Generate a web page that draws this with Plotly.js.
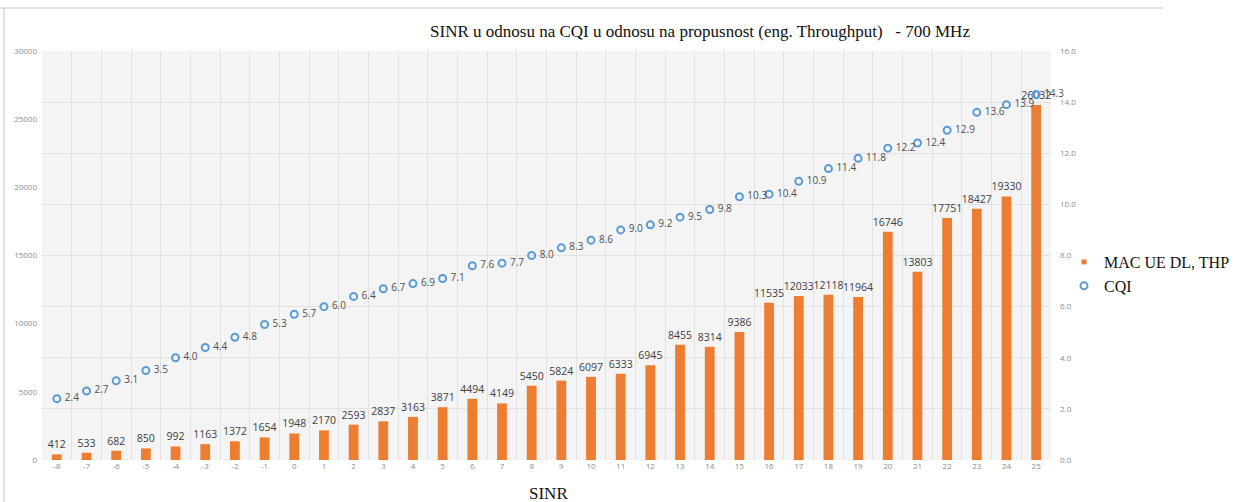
<!DOCTYPE html>
<html>
<head>
<meta charset="utf-8">
<script src="https://cdn.plot.ly/plotly-3.0.1.min.js"></script>
<style>html,body{margin:0;padding:0;background:#fff;}#chart{width:1236px;height:502px;}</style>
</head>
<body>
<div id="chart"></div>
<script>
const sinr = ["-8","-7","-6","-5","-4","-3","-2","-1","0","1","2","3","4","5","6","7","8","9","10","11","12","13","14","15","16","17","18","19","20","21","22","23","24","25"];
const throughput = [412,533,682,850,992,1163,1372,1654,1948,2170,2593,2837,3163,3871,4494,4149,5450,5824,6097,6333,6945,8455,8314,9386,11535,12033,12118,11964,16746,13803,17751,18427,19330,26032];
const cqi = [2.4,2.7,3.1,3.5,4.0,4.4,4.8,5.3,5.7,6.0,6.4,6.7,6.9,7.1,7.6,7.7,8.0,8.3,8.6,9.0,9.2,9.5,9.8,10.3,10.4,10.9,11.4,11.8,12.2,12.4,12.9,13.6,13.9,14.3];
const titleText = "SINR u odnosu na CQI u odnosu na propusnost (eng. Throughput)\u00a0\u00a0\u00a0- 700 MHz";

const pl = 42, pr = 1051, pt = 51, pb = 460;
const px = v => (v - pl) / (pr - pl);
const py = v => (pb - v) / (pb - pt);

const traces = [
  {
    type: 'bar', x: sinr, y: throughput, name: 'MAC UE DL, THP', showlegend: false,
    marker: {color: '#ED7D31'}, width: 0.33,
    text: throughput.map(String), textposition: 'outside', cliponaxis: false, constraintext: 'none',
    textfont: {family: 'Open Sans, sans-serif', size: 10.5, color: '#404040'},
    hoverinfo: 'x+y'
  },
  {
    type: 'scatter', mode: 'markers', x: [sinr[0]], y: [null], name: 'MAC UE DL, THP',
    marker: {symbol: 'square', size: 5, color: '#ED7D31'}, showlegend: true, yaxis: 'y'
  },
  {
    type: 'scatter', mode: 'markers+text', x: sinr, y: cqi, name: 'CQI', yaxis: 'y2',
    marker: {symbol: 'circle-open', size: 7, color: '#5B9BD5', line: {width: 2, color: '#5B9BD5'}},
    text: cqi.map(v => '\u00a0' + v.toFixed(1)), textposition: 'middle right', cliponaxis: false,
    textfont: {family: 'Open Sans, sans-serif', size: 10, color: '#505050'}
  }
];

const layout = {
  width: 1236, height: 502,
  margin: {l: pl, r: 1236 - pr, t: pt, b: 502 - pb, pad: 0, autoexpand: false},
  paper_bgcolor: '#ffffff', plot_bgcolor: '#f4f4f4',
  showlegend: true,
  title: {text: titleText, font: {family: 'Liberation Serif, serif', size: 17, color: '#111'},
          xref: 'container', x: 700/1236, xanchor: 'center', yref: 'container', y: 1 - 31/502, yanchor: 'middle'},
  xaxis: {type: 'category', categoryorder: 'array', categoryarray: sinr, range: [-0.5, sinr.length - 0.5],
          tickson: 'boundaries', ticks: '', showgrid: true, gridcolor: '#e2e2e2', gridwidth: 1,
          tickfont: {family: 'Open Sans, sans-serif', size: 8, color: '#8c8c8c'},
          showline: false, zeroline: false, fixedrange: true, automargin: false},
  yaxis: {range: [0, 30000], dtick: 5000, tickformat: 'd', showgrid: false, zeroline: false, showline: false, automargin: false,
          tickfont: {family: 'Open Sans, sans-serif', size: 8, color: '#8c8c8c'}, ticks: '', ticklabelstandoff: 4},
  yaxis2: {range: [0, 16], dtick: 2, tickformat: '.1f', overlaying: 'y', side: 'right', automargin: false,
           showgrid: true, gridcolor: '#e2e2e2', zeroline: false, showline: false,
           tickfont: {family: 'Open Sans, sans-serif', size: 8, color: '#8c8c8c'}, ticks: '', ticklabelstandoff: 8},
  legend: {x: px(1064), y: py(274), xanchor: 'left', yanchor: 'middle', bgcolor: 'rgba(0,0,0,0)',
           font: {family: 'Liberation Serif, serif', size: 16, color: '#111'}, itemwidth: 30, tracegroupgap: 0},
  annotations: [
    {text: 'SINR', xref: 'paper', yref: 'paper', x: px(548), y: py(493), xanchor: 'center', yanchor: 'middle',
     showarrow: false, font: {family: 'Liberation Serif, serif', size: 17, color: '#111'}}
  ],
  shapes: [
    {type: 'line', xref: 'paper', yref: 'paper', x0: px(0), x1: px(1163), y0: py(8), y1: py(8), line: {color: '#d6d6d6', width: 1.5}},
    {type: 'line', xref: 'paper', yref: 'paper', x0: px(4), x1: px(4), y0: py(8), y1: py(502), line: {color: '#d6d6d6', width: 1.5}}
  ]
};

Plotly.newPlot('chart', traces, layout, {displayModeBar: false, staticPlot: true});
</script>
</body>
</html>
